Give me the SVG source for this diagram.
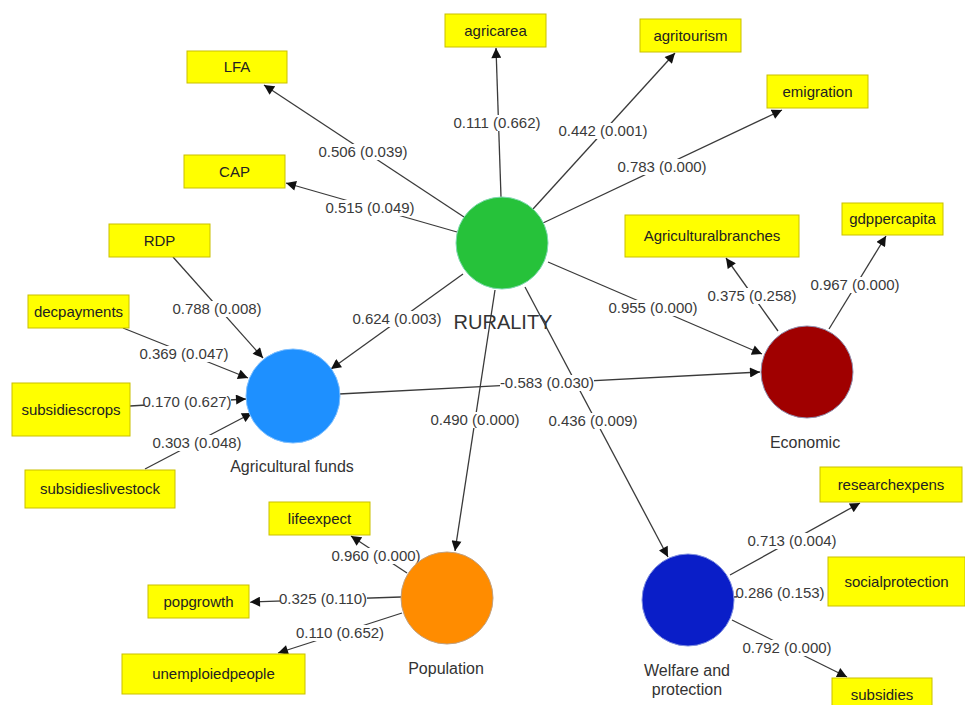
<svg xmlns="http://www.w3.org/2000/svg" width="965" height="705" viewBox="0 0 965 705">
<defs>
<marker id="arr" viewBox="0 0 10 10" refX="10" refY="5" markerWidth="11" markerHeight="10" markerUnits="userSpaceOnUse" orient="auto">
<path d="M0,0 L10,5 L0,10 z" fill="#111"/>
</marker>
<style>
.box{fill:#ffff00;stroke:#c9c000;stroke-width:1}
.bt{font-family:"Liberation Sans",Arial,sans-serif;font-size:15px;fill:#222;text-anchor:middle}
.nl{font-family:"Liberation Sans",Arial,sans-serif;font-size:16px;fill:#333;text-anchor:middle}
.ln{stroke:#3a3a3a;stroke-width:1.3;fill:none}
.lb{font-family:"Liberation Sans",Arial,sans-serif;font-size:15px;fill:#3a3a3a;text-anchor:middle}
.lbg{fill:#fff}
</style>
</defs>
<rect width="965" height="705" fill="#fff"/>
<g id="connectors">
<line class="ln" x1="501" y1="197" x2="496" y2="48" marker-end="url(#arr)"/>
<line class="ln" x1="464" y1="217" x2="264" y2="85" marker-end="url(#arr)"/>
<line class="ln" x1="457" y1="232" x2="286" y2="183" marker-end="url(#arr)"/>
<line class="ln" x1="533" y1="209" x2="675" y2="53" marker-end="url(#arr)"/>
<line class="ln" x1="543" y1="223" x2="782" y2="110" marker-end="url(#arr)"/>
<line class="ln" x1="548" y1="262" x2="762" y2="354" marker-end="url(#arr)"/>
<line class="ln" x1="463" y1="274" x2="331" y2="369" marker-end="url(#arr)"/>
<line class="ln" x1="495" y1="290" x2="455" y2="551" marker-end="url(#arr)"/>
<line class="ln" x1="525" y1="287" x2="668" y2="557" marker-end="url(#arr)"/>
<line class="ln" x1="339" y1="394" x2="760" y2="372" marker-end="url(#arr)"/>
<line class="ln" x1="173" y1="257" x2="263" y2="358" marker-end="url(#arr)"/>
<line class="ln" x1="123" y1="328" x2="248" y2="378" marker-end="url(#arr)"/>
<line class="ln" x1="130" y1="406" x2="246" y2="399" marker-end="url(#arr)"/>
<line class="ln" x1="145" y1="469" x2="252" y2="413" marker-end="url(#arr)"/>
<line class="ln" x1="778" y1="331" x2="726" y2="258" marker-end="url(#arr)"/>
<line class="ln" x1="829" y1="329" x2="886" y2="236" marker-end="url(#arr)"/>
<line class="ln" x1="407" y1="573" x2="351" y2="536" marker-end="url(#arr)"/>
<line class="ln" x1="401" y1="597" x2="250" y2="602" marker-end="url(#arr)"/>
<line class="ln" x1="402" y1="613" x2="278" y2="653" marker-end="url(#arr)"/>
<line class="ln" x1="730" y1="575" x2="860" y2="503" marker-end="url(#arr)"/>
<line class="ln" x1="734" y1="597" x2="823" y2="591"/>
<line class="ln" x1="732" y1="620" x2="847" y2="677" marker-end="url(#arr)"/>
</g>
<g id="labels">
<rect class="lbg" x="320" y="144" width="87" height="16"/><text class="lb" x="363" y="157">0.506 (0.039)</text>
<rect class="lbg" x="454" y="115" width="87" height="16"/><text class="lb" x="497" y="128">0.111 (0.662)</text>
<rect class="lbg" x="560" y="123" width="87" height="16"/><text class="lb" x="603" y="136">0.442 (0.001)</text>
<rect class="lbg" x="619" y="159" width="87" height="16"/><text class="lb" x="662" y="172">0.783 (0.000)</text>
<rect class="lbg" x="327" y="200" width="87" height="16"/><text class="lb" x="370" y="213">0.515 (0.049)</text>
<rect class="lbg" x="174" y="301" width="87" height="16"/><text class="lb" x="217" y="314">0.788 (0.008)</text>
<rect class="lbg" x="141" y="346" width="87" height="16"/><text class="lb" x="184" y="359">0.369 (0.047)</text>
<rect class="lbg" x="144" y="394" width="87" height="16"/><text class="lb" x="187" y="407">0.170 (0.627)</text>
<rect class="lbg" x="154" y="435" width="87" height="16"/><text class="lb" x="197" y="448">0.303 (0.048)</text>
<rect class="lbg" x="354" y="311" width="87" height="16"/><text class="lb" x="397" y="324">0.624 (0.003)</text>
<rect class="lbg" x="610" y="300" width="87" height="16"/><text class="lb" x="653" y="313">0.955 (0.000)</text>
<rect class="lbg" x="709" y="288" width="87" height="16"/><text class="lb" x="752" y="301">0.375 (0.258)</text>
<rect class="lbg" x="812" y="277" width="87" height="16"/><text class="lb" x="855" y="290">0.967 (0.000)</text>
<rect class="lbg" x="500" y="375" width="94" height="16"/><text class="lb" x="547" y="388">-0.583 (0.030)</text>
<rect class="lbg" x="432" y="412" width="87" height="16"/><text class="lb" x="475" y="425">0.490 (0.000)</text>
<rect class="lbg" x="550" y="413" width="87" height="16"/><text class="lb" x="593" y="426">0.436 (0.009)</text>
<rect class="lbg" x="333" y="548" width="87" height="16"/><text class="lb" x="376" y="561">0.960 (0.000)</text>
<rect class="lbg" x="280" y="591" width="87" height="16"/><text class="lb" x="323" y="604">0.325 (0.110)</text>
<rect class="lbg" x="297" y="625" width="87" height="16"/><text class="lb" x="340" y="638">0.110 (0.652)</text>
<rect class="lbg" x="749" y="533" width="87" height="16"/><text class="lb" x="792" y="546">0.713 (0.004)</text>
<rect class="lbg" x="737" y="585" width="87" height="16"/><text class="lb" x="780" y="598">0.286 (0.153)</text>
<rect class="lbg" x="744" y="640" width="87" height="16"/><text class="lb" x="787" y="653">0.792 (0.000)</text>
</g>
<g id="rurality"><circle cx="502" cy="243" r="46" fill="#26c23a" stroke="#7fd9b0" stroke-width="1"/><text x="503" y="329" font-family="'Liberation Sans',Arial,sans-serif" font-size="20" fill="#333" text-anchor="middle">RURALITY</text></g>
<g id="agrfunds"><circle cx="293" cy="396" r="47" fill="#1e90ff" stroke="#7fc0ff" stroke-width="1"/><text class="nl" x="292" y="472">Agricultural funds</text></g>
<g id="economic"><circle cx="807" cy="372" r="46" fill="#a00000" stroke="#9090b0" stroke-width="1"/><text class="nl" x="805" y="448">Economic</text></g>
<g id="population"><circle cx="447" cy="598" r="46" fill="#ff8c00" stroke="#c0a080" stroke-width="1"/><text class="nl" x="446" y="674">Population</text></g>
<g id="welfare"><circle cx="688" cy="600" r="46" fill="#0a1ec8" stroke="#8090e0" stroke-width="1"/><text class="nl" x="687" y="676">Welfare and</text><text class="nl" x="687" y="695">protection</text></g>
<g id="agricarea"><rect class="box" x="445" y="14" width="101" height="33"/><text class="bt" x="495.5" y="36">agricarea</text></g>
<g id="LFA"><rect class="box" x="187" y="51" width="100" height="32"/><text class="bt" x="237" y="72">LFA</text></g>
<g id="CAP"><rect class="box" x="184" y="155" width="101" height="33"/><text class="bt" x="234.5" y="177">CAP</text></g>
<g id="agritourism"><rect class="box" x="640" y="19" width="101" height="33"/><text class="bt" x="690.5" y="41">agritourism</text></g>
<g id="emigration"><rect class="box" x="767" y="75" width="101" height="33"/><text class="bt" x="817.5" y="97">emigration</text></g>
<g id="gdppercapita"><rect class="box" x="842" y="203" width="101" height="32"/><text class="bt" x="892.5" y="224">gdppercapita</text></g>
<g id="agriculturalbranches"><rect class="box" x="625" y="215" width="174" height="42"/><text class="bt" x="712" y="241">Agriculturalbranches</text></g>
<g id="RDP"><rect class="box" x="109" y="224" width="101" height="33"/><text class="bt" x="159.5" y="246">RDP</text></g>
<g id="decpayments"><rect class="box" x="28" y="295" width="101" height="33"/><text class="bt" x="78.5" y="317">decpayments</text></g>
<g id="subsidiescrops"><rect class="box" x="12" y="383" width="118" height="53"/><text class="bt" x="71" y="415">subsidiescrops</text></g>
<g id="subsidieslivestock"><rect class="box" x="25" y="470" width="150" height="38"/><text class="bt" x="100" y="494">subsidieslivestock</text></g>
<g id="lifeexpect"><rect class="box" x="269" y="502" width="101" height="33"/><text class="bt" x="319.5" y="524">lifeexpect</text></g>
<g id="popgrowth"><rect class="box" x="148" y="585" width="101" height="33"/><text class="bt" x="198.5" y="607">popgrowth</text></g>
<g id="unemploiedpeople"><rect class="box" x="122" y="654" width="183" height="40"/><text class="bt" x="213.5" y="679">unemploiedpeople</text></g>
<g id="researchexpens"><rect class="box" x="820" y="467" width="142" height="35"/><text class="bt" x="891" y="490">researchexpens</text></g>
<g id="socialprotection"><rect class="box" x="828" y="557" width="137" height="49"/><text class="bt" x="896.5" y="587">socialprotection</text></g>
<g id="subsidies"><rect class="box" x="832" y="678" width="100" height="32"/><text class="bt" x="882" y="700">subsidies</text></g>
</svg>
